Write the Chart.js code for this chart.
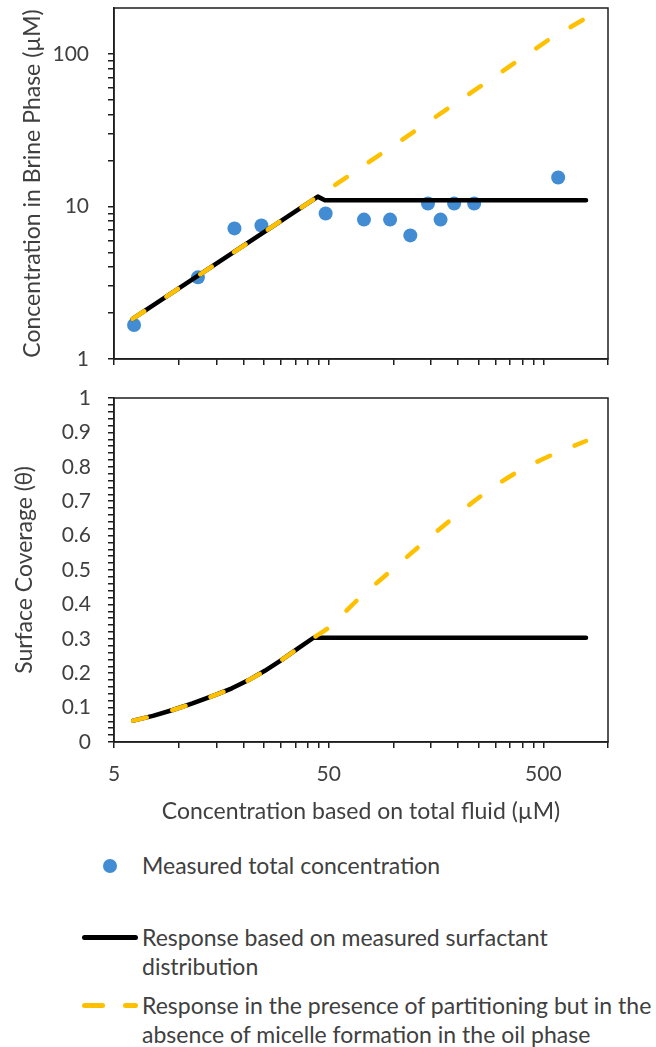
<!DOCTYPE html>
<html>
<head>
<meta charset="utf-8">
<script src="https://cdn.jsdelivr.net/npm/chart.js@4.4.0/dist/chart.umd.min.js"></script>
<style>
  body { margin: 0; background: #fff; width: 656px; height: 1047px; position: relative; overflow: hidden;
         font-family: Lato, "Open Sans", sans-serif; color: #404040; }
  #topChart { position: absolute; left: 0; top: 0; }
  #bottomChart { position: absolute; left: 0; top: 372px; }
  .legText { position: absolute; left: 142px; font-size: 23px; line-height: 29px; white-space: nowrap; }
  .dot { position: absolute; width: 14px; height: 14px; border-radius: 50%; background: #418CD2; }
  .bar { position: absolute; height: 5px; border-radius: 3px; }
</style>
</head>
<body>
<canvas id="topChart" width="656" height="370"></canvas>
<canvas id="bottomChart" width="656" height="458"></canvas>

<div class="dot" style="left:103px; top:859px"></div>
<div class="legText" style="top:851px">Measured total concentration</div>

<div class="bar" style="left:82px; top:935px; width:56px; background:#000"></div>
<div class="legText" style="top:923px">Response based on measured surfactant<br>distribution</div>

<div class="bar" style="left:82px; top:1003px; width:23px; background:#FFC000"></div>
<div class="bar" style="left:123px; top:1003px; width:15px; background:#FFC000"></div>
<div class="legText" style="top:991px">Response in the presence of partitioning but in the<br>absence of micelle formation in the oil phase</div>

<script>
// measured points (total fluid conc. vs brine conc.)
const measuredX = [6.2, 12.3, 18.2, 24.3, 48.4, 73, 96.6, 120, 145, 166, 192, 238, 586];
const measuredY = [1.67, 3.43, 7.18, 7.5, 9.0, 8.2, 8.2, 6.46, 10.46, 8.2, 10.46, 10.46, 15.5];

// brine phase response curves
const brineDistX = [6.1, 44.5, 48, 790];
const brineDistY = [1.83, 11.6, 11.0, 11.0];
const brineNoMicX = [6.1, 44.5, 123, 253, 521, 790];
const brineNoMicY = [1.83, 11.6, 30.5, 61, 122, 172];

// surface coverage curves
const coverDistX = [6.14, 7.59, 9.38, 11.6, 14.86, 17.7, 21.2, 25.2, 30.1, 36.0, 42.5, 790];
const coverDistY = [0.062, 0.076, 0.093, 0.112, 0.137, 0.156, 0.180, 0.207, 0.238, 0.272, 0.303, 0.303];
const coverNoMicX = [6.14, 7.59, 9.38, 11.6, 14.86, 17.7, 21.2, 25.2, 30.1, 36.0, 42.5, 50.4, 68, 93.5, 131, 182, 256, 371, 545, 790];
const coverNoMicY = [0.062, 0.076, 0.093, 0.112, 0.137, 0.156, 0.180, 0.207, 0.238, 0.272, 0.303, 0.334, 0.413, 0.488, 0.567, 0.642, 0.715, 0.782, 0.834, 0.875];

// axis ticks
const xLabelTicks = [5, 50, 500];
const yTopLabelTicks = [1, 10, 100];
const yBottomLabelTicks = ['0', '0.1', '0.2', '0.3', '0.4', '0.5', '0.6', '0.7', '0.8', '0.9', '1'];

const TEXT = '#404040';
const AXIS = '#1e1e1e';
const BLUE = '#418CD2';
const GOLD = '#FFC000';
const TICK_FONT = { family: 'Lato', size: 21 };
const TITLE_FONT = { family: 'Lato', size: 23 };

const xTicks = [];
xLabelTicks.forEach(d => { for (let k = 1; k <= 9; k++) if (d * k <= 1000) xTicks.push(d * k); });
const yTopTicks = [];
yTopLabelTicks.forEach(d => { for (let k = 1; k <= 9; k++) if (d * k < 200) yTopTicks.push(d * k); });
const yBottomTicks = [];
for (let i = 0; i <= 50; i++) yBottomTicks.push(i / 50);

const pts = (xs, ys) => xs.map((x, i) => ({ x, y: ys[i] }));

const plotFrame = {
    id: 'plotFrame',
    beforeDatasetsDraw(chart) {
        const { ctx, chartArea: a } = chart;
        ctx.save();
        ctx.strokeStyle = AXIS;
        ctx.lineWidth = 1.5;
        ctx.strokeRect(a.left, a.top, a.right - a.left, a.bottom - a.top);
        ctx.restore();
    }
};

const gridOpts = { drawOnChartArea: false, drawTicks: true, tickLength: 6, color: AXIS, lineWidth: 1.5 };

function noPad(s) { s.paddingTop = 0; s.paddingBottom = 0; s.paddingLeft = 0; s.paddingRight = 0; }

function xScale(withLabels, height) {
    return {
        type: 'logarithmic', position: 'bottom', min: 5, max: 1000,
        afterBuildTicks: s => { s.ticks = xTicks.map(v => ({ value: v })); },
        afterFit: s => { s.height = height; noPad(s); },
        ticks: {
            autoSkip: false, maxRotation: 0, minRotation: 0, padding: 14, color: TEXT, font: TICK_FONT,
            callback: v => (withLabels && xLabelTicks.includes(v)) ? String(v) : ''
        },
        grid: gridOpts,
        border: { color: AXIS, width: 1.5 },
        title: {
            display: withLabels, text: 'Concentration based on total fluid (µM)',
            color: TEXT, font: TITLE_FONT, padding: { top: 0, bottom: 5 }
        }
    };
}

const lineStyle = (color, dashed) => ({
    showLine: true, pointRadius: 0, borderColor: color, backgroundColor: color,
    borderWidth: 4.5, borderCapStyle: 'round', borderJoinStyle: 'round',
    borderDash: dashed ? [14, 26.5] : [], tension: 0
});

const common = {
    responsive: false, animation: false,
    plugins: { legend: { display: false }, tooltip: { enabled: false } }
};

new Chart(document.getElementById('topChart'), {
    type: 'scatter',
    data: {
        datasets: [
            Object.assign({ data: pts(brineNoMicX, brineNoMicY), order: 0 }, lineStyle(GOLD, true)),
            Object.assign({ data: pts(brineDistX, brineDistY), order: 1 }, lineStyle('#000', false)),
            { data: pts(measuredX, measuredY), order: 2, pointRadius: 7, pointBackgroundColor: BLUE,
              pointBorderWidth: 0, showLine: false }
        ]
    },
    options: Object.assign({}, common, {
        layout: { padding: { top: 8, right: 48, bottom: 0, left: 0 } },
        scales: {
            x: xScale(false, 11),
            y: {
                type: 'logarithmic', min: 1, max: 200,
                afterBuildTicks: s => { s.ticks = yTopTicks.map(v => ({ value: v })); },
                afterFit: s => { s.width = 114; noPad(s); },
                ticks: {
                    autoSkip: false, padding: 19, color: TEXT, font: TICK_FONT,
                    callback: v => yTopLabelTicks.includes(v) ? String(v) : ''
                },
                grid: gridOpts,
                border: { color: AXIS, width: 1.5 },
                title: { display: true, text: 'Concentration in Brine Phase (µM)', color: TEXT, font: TITLE_FONT,
                         padding: { top: 19, bottom: 0 } }
            }
        }
    }),
    plugins: [plotFrame]
});

new Chart(document.getElementById('bottomChart'), {
    type: 'scatter',
    data: {
        datasets: [
            Object.assign({ data: pts(coverNoMicX, coverNoMicY), order: 0 }, lineStyle(GOLD, true),
                          { cubicInterpolationMode: 'monotone' }),
            Object.assign({ data: pts(coverDistX, coverDistY), order: 1 }, lineStyle('#000', false))
        ]
    },
    options: Object.assign({}, common, {
        layout: { padding: { top: 26, right: 48, bottom: 0, left: 0 } },
        scales: {
            x: xScale(true, 88),
            y: {
                type: 'linear', min: 0, max: 1,
                afterBuildTicks: s => { s.ticks = yBottomTicks.map(v => ({ value: v })); },
                afterFit: s => { s.width = 114; noPad(s); },
                ticks: {
                    autoSkip: false, padding: 17, color: TEXT, font: TICK_FONT,
                    callback: v => {
                        const i = Math.round(v * 50);
                        return i % 5 === 0 ? yBottomLabelTicks[i / 5] : '';
                    }
                },
                grid: gridOpts,
                border: { color: AXIS, width: 1.5 },
                title: { display: true, text: 'Surface Coverage (θ)', color: TEXT, font: TITLE_FONT,
                         padding: { top: 11, bottom: 0 } }
            }
        }
    }),
    plugins: [plotFrame]
});
</script>
</body>
</html>
